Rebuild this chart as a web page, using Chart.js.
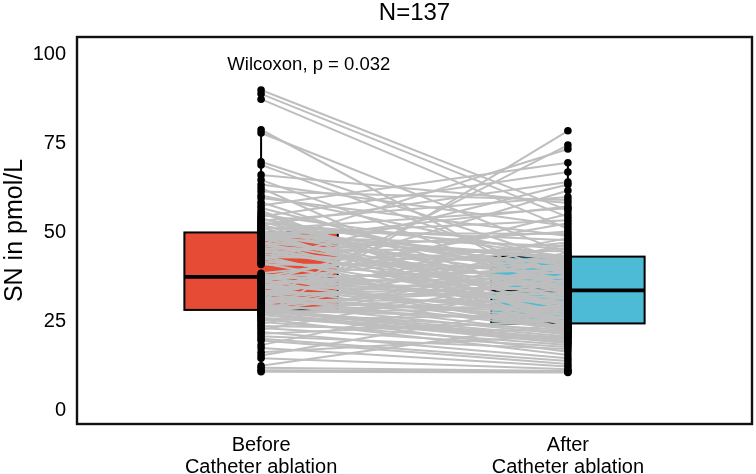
<!DOCTYPE html>
<html>
<head>
<meta charset="utf-8">
<script src="https://cdn.jsdelivr.net/npm/chart.js@4.4.1/dist/chart.umd.min.js"></script>
<style>
  html, body { margin: 0; padding: 0; background: #fff; }
  #wrap { width: 756px; height: 474px; }
</style>
</head>
<body>
<div id="wrap"><canvas id="chart"></canvas></div>
<script>
// groups on the x axis (positions 1 and 2)
const groupLabels = [['Before', 'Catheter ablation'], ['After', 'Catheter ablation']];
const yTicks = [0, 25, 50, 75, 100];
const statText = 'Wilcoxon, p = 0.032';
const statPos = [0.89, 97.2];

// SN (pmol/L) per patient, before and after ablation (same order = same patient)
const before = [
  10.8, 11.2, 11.9, 12.5, 14.6, 15.4, 16.3, 17.5, 18.3, 19.6,
  20.1, 20.8, 21.5, 22.0, 22.6, 23.1, 23.7, 24.2, 24.8, 25.3,
  25.7, 26.0, 26.4, 26.8, 27.1, 27.3, 27.5, 27.6, 27.7, 27.8,
  27.9, 28.0, 28.1, 28.1, 28.2,
  28.4, 28.7, 29.0, 29.3, 29.6, 29.9, 30.2, 30.5, 30.8, 31.0,
  31.3, 31.6, 31.9, 32.2, 32.5, 32.8, 33.1, 33.4, 33.7, 34.0,
  34.3, 34.6, 34.9, 35.2, 35.5, 35.8, 36.0, 36.3, 36.6, 36.8,
  37.0, 37.2, 37.4, 37.5,
  37.7, 37.9, 38.2, 38.5, 41.0, 41.4, 41.9, 42.3, 42.7, 43.1,
  43.5, 43.9, 44.3, 44.7, 45.0, 45.4, 45.8, 46.1, 46.5, 46.8,
  47.1, 47.4, 47.7, 48.0, 48.3, 48.6, 48.9, 49.1, 49.3, 49.5,
  49.7, 49.8, 49.9, 50.0,
  50.3, 50.6, 50.9, 51.2, 51.5, 51.8, 52.1, 52.4, 52.7, 53.0,
  53.3, 53.7, 54.1, 54.5, 55.0, 55.5, 56.1, 56.9, 57.6, 58.5,
  59.7, 60.4, 61.5, 62.5, 63.5, 64.8, 66.2, 69.0, 69.9, 78.0,
  78.9, 87.5, 89.0, 90.1
];
const after = [
  10.6, 10.8, 11.0, 24.6, 11.5, 30.0, 21.0, 12.3, 36.3, 13.0,
  13.8, 17.2, 25.2, 14.6, 38.1, 17.8, 22.2, 43.5, 18.3, 27.0,
  15.5, 20.4, 78.6, 18.8, 31.5, 19.2, 16.4, 28.5, 22.5, 40.2,
  19.6, 33.1, 20.0, 25.8, 46.7,
  20.7, 29.1, 36.6, 24.9, 44.3, 21.3, 33.9, 27.6, 74.6, 30.6,
  39.0, 21.6, 26.1, 48.4, 34.8, 22.7, 31.8, 41.1, 28.2, 55.2,
  35.7, 22.9, 32.4, 43.0, 26.7, 61.8, 37.2, 33.5, 23.1, 45.7,
  39.6, 29.7, 52.6, 35.1,
  23.3, 37.5, 30.3, 47.2, 40.5, 25.5, 34.2, 63.5, 28.8, 42.0,
  23.9, 38.4, 50.3, 32.1, 36.0, 44.7, 27.3, 41.4, 73.5, 33.3,
  39.9, 24.3, 57.3, 34.5, 31.2, 42.8, 46.2, 29.4, 36.9, 53.4,
  43.1, 26.4, 40.8, 49.6,
  42.3, 21.9, 56.8, 33.6, 47.8, 38.7, 64.2, 23.5, 45.2, 32.7,
  60.0, 39.3, 27.9, 67.0, 43.2, 24.1, 24.4, 35.4, 69.6, 30.9,
  49.0, 42.6, 59.1, 23.7, 51.8, 33.7, 58.3, 37.8, 41.7, 43.9,
  32.9, 51.0, 54.3, 56.2
];

const boxColors = ['#E64B35', '#4DBBD5'];
const FONT = '"Liberation Sans", Arial, Helvetica, sans-serif';
Chart.defaults.font.family = FONT;
Chart.defaults.color = '#000';

// R type 7 quantile
function quantile(sorted, p) {
  const h = (sorted.length - 1) * p;
  const lo = Math.floor(h);
  const hi = Math.min(lo + 1, sorted.length - 1);
  return sorted[lo] + (h - lo) * (sorted[hi] - sorted[lo]);
}

function boxStats(values) {
  const s = values.slice().sort((a, b) => a - b);
  const q1 = quantile(s, 0.25), med = quantile(s, 0.5), q3 = quantile(s, 0.75);
  const iqr = q3 - q1;
  const lo = s.filter(v => v >= q1 - 1.5 * iqr)[0];
  const hiVals = s.filter(v => v <= q3 + 1.5 * iqr);
  return { q1, med, q3, lo, hi: hiVals[hiVals.length - 1] };
}

// boxes go under the lines and points, like in ggplot
const boxPlugin = {
  id: 'boxes',
  beforeDatasetsDraw(chart) {
    const { ctx, scales: { x, y } } = chart;
    [before, after].forEach((vals, i) => {
      const s = boxStats(vals);
      const pos = i + 1;
      const xl = x.getPixelForValue(pos - 0.25);
      const xr = x.getPixelForValue(pos + 0.25);
      const xc = x.getPixelForValue(pos);
      ctx.save();
      ctx.strokeStyle = '#000';
      ctx.lineWidth = 2;
      ctx.beginPath();
      ctx.moveTo(xc, y.getPixelForValue(s.q3));
      ctx.lineTo(xc, y.getPixelForValue(s.hi));
      ctx.moveTo(xc, y.getPixelForValue(s.q1));
      ctx.lineTo(xc, y.getPixelForValue(s.lo));
      ctx.stroke();
      const yt = y.getPixelForValue(s.q3), yb = y.getPixelForValue(s.q1);
      ctx.fillStyle = boxColors[i];
      ctx.fillRect(xl, yt, xr - xl, yb - yt);
      ctx.strokeRect(xl, yt, xr - xl, yb - yt);
      ctx.lineWidth = 3.6;
      ctx.beginPath();
      const ym = y.getPixelForValue(s.med);
      ctx.moveTo(xl, ym);
      ctx.lineTo(xr, ym);
      ctx.stroke();
      ctx.restore();
    });
  }
};

const framePlugin = {
  id: 'frame',
  afterDraw(chart) {
    const { ctx, chartArea: a, scales: { x, y } } = chart;
    ctx.save();
    ctx.font = '18.5px ' + FONT;
    ctx.fillStyle = '#000';
    ctx.textAlign = 'left';
    ctx.textBaseline = 'middle';
    ctx.fillText(statText, x.getPixelForValue(statPos[0]), y.getPixelForValue(statPos[1]));
    ctx.strokeStyle = '#111';
    ctx.lineWidth = 2.4;
    ctx.strokeRect(a.left, a.top, a.right - a.left, a.bottom - a.top);
    ctx.restore();
  }
};

const pairSets = before.map((b, i) => ({
  type: 'line',
  data: [{ x: 1, y: b }, { x: 2, y: after[i] }],
  borderColor: '#bebebe',
  borderWidth: 2,
  pointRadius: 0,
  order: 2
}));

const pointSet = {
  type: 'scatter',
  data: before.map(v => ({ x: 1, y: v })).concat(after.map(v => ({ x: 2, y: v }))),
  backgroundColor: '#000',
  borderWidth: 0,
  pointRadius: 3.8,
  order: 1
};

new Chart(document.getElementById('chart'), {
  type: 'scatter',
  data: { datasets: [pointSet].concat(pairSets) },
  plugins: [boxPlugin, framePlugin],
  options: {
    responsive: true,
    maintainAspectRatio: false,
    animation: false,
    layout: { padding: { left: 0, right: 3, top: 0, bottom: 0 } },
    plugins: {
      legend: { display: false },
      tooltip: { enabled: false },
      title: {
        display: true,
        text: 'N=137',
        fullSize: false,
        font: { size: 24, weight: 'normal', lineHeight: 1.1 },
        color: '#000',
        padding: { top: 0, bottom: 10.6 }
      }
    },
    scales: {
      x: {
        type: 'linear',
        min: 0.4,
        max: 2.6,
        grid: { display: false, drawTicks: false },
        border: { display: false },
        afterBuildTicks: axis => { axis.ticks = [{ value: 1 }, { value: 2 }]; },
        afterFit: axis => { axis.height = 50; },
        ticks: {
          font: { size: 20, lineHeight: 1.1 },
          color: '#000',
          padding: 10,
          maxRotation: 0,
          callback: v => groupLabels[Math.round(v) - 1]
        }
      },
      y: {
        min: -3.9,
        max: 105,
        grid: { display: false, drawTicks: false },
        border: { display: false },
        afterBuildTicks: axis => { axis.ticks = yTicks.map(v => ({ value: v })); },
        afterFit: axis => { axis.width = 77; },
        ticks: { font: { size: 20 }, color: '#000', padding: 11 },
        title: {
          display: true,
          text: 'SN in pmol/L',
          font: { size: 25, lineHeight: 1.2 },
          color: '#000',
          padding: { top: 0, bottom: 0 }
        }
      }
    }
  }
});
</script>
</body>
</html>
